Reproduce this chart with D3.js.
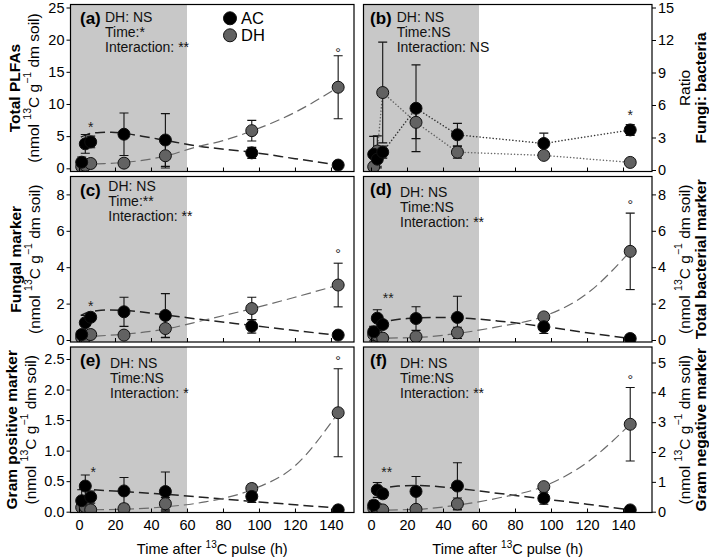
<!DOCTYPE html>
<html><head><meta charset="utf-8">
<script src="https://cdnjs.cloudflare.com/ajax/libs/d3/7.8.5/d3.min.js"></script>
<style>body{margin:0;background:#fff} svg{display:block;font-family:"Liberation Sans",Arial,sans-serif}</style>
</head><body><svg id="c" width="709" height="558"></svg>
<script>
// ---------- DATA ----------
const times = [1.5, 3.5, 6.5, 25, 48, 96, 144];
const xTicks = [0, 20, 40, 60, 80, 100, 120, 140];
const shadeEnd = 60;
const seriesNames = ["AC", "DH"];

// (a) Total PLFAs
const acA = [0.95, 3.8, 4.1, 5.3, 4.4, 2.4, 0.5];
const acErrA = [0.8, 1.45, 0.9, 3.3, 4.1, 0.85, 0.15];
const dhA = [0.25, 0.45, 0.75, 0.8, 1.95, 5.85, 12.6];
const dhErrA = [0.3, 0.35, 0.3, 0.6, 1.9, 1.6, 4.9];
const fitAcA = [[1,4.85],[4,5.2],[7,5.45],[12,5.58],[18,5.62],[25,5.45],[35,5.0],[48,4.35],[65,3.5],[96,2.5],[120,1.5],[144,0.5]];
const fitDhA = [[1,0.6],[10,0.7],[25,0.9],[48,1.9],[65,3.3],[80,4.3],[96,5.8],[120,8.7],[144,12.6]];
const ticksA = [0, 5, 10, 15, 20, 25];
const sigA = [{t:6.5, v:6.8, s:"*"}, {t:144, v:18.3, s:"°"}];
const statA = ["DH: NS", "Time:*", "Interaction: **"];

// (b) Fungi:bacteria ratio
const acB = [1.45, 1.0, 1.65, 5.7, 3.25, 2.45, 3.7];
const acErrB = [1.65, 0.8, 0.55, 4.0, 1.05, 0.95, 0.5];
const dhB = [0.3, 1.75, 7.15, 4.4, 1.65, 1.35, 0.7];
const dhErrB = [0.4, 1.4, 4.65, 1.5, 0.55, 0.3, 0.2];
const ticksB = [0, 3, 6, 9, 12, 15];
const sigB = [{t:144, v:5.3, s:"*"}];
const statB = ["DH: NS", "Time:NS", "Interaction: NS"];

// (c) Fungal marker
const acC = [0.3, 0.95, 1.25, 1.55, 1.35, 0.75, 0.27];
const acErrC = [0.2, 0.4, 0.2, 0.8, 1.2, 0.37, 0.08];
const dhC = [0.12, 0.15, 0.3, 0.27, 0.63, 1.73, 3.02];
const dhErrC = [0.1, 0.1, 0.1, 0.2, 0.5, 0.62, 1.2];
const fitAcC = [[1,1.35],[5,1.52],[10,1.61],[17,1.65],[25,1.62],[48,1.38],[70,1.1],[96,0.8],[120,0.52],[144,0.26]];
const fitDhC = [[1,0.18],[25,0.32],[48,0.6],[70,1.1],[96,1.72],[120,2.35],[144,3.02]];
const ticksC = [0, 2, 4, 6, 8];
const sigC = [{t:6.5, v:1.96, s:"*"}, {t:144, v:4.85, s:"°"}];
const statC = ["DH: NS", "Time:**", "Interaction: **"];

// (d) Total bacterial marker
const acD = [0.45, 1.2, 0.85, 1.18, 1.24, 0.73, 0.08];
const acErrD = [0.3, 0.46, 0.2, 0.65, 1.16, 0.37, 0.05];
const dhD = [0.3, 0.25, 0.1, 0.18, 0.4, 1.27, 4.87];
const dhErrD = [0.35, 0.1, 0.05, 0.1, 0.3, 0.2, 2.1];
const fitAcD = [[3,0.85],[10,1.05],[20,1.18],[35,1.24],[48,1.22],[70,1.05],[96,0.74],[120,0.4],[144,0.08]];
const fitDhD = [[1,0.1],[25,0.14],[48,0.36],[70,0.72],[96,1.3],[120,2.55],[144,4.87]];
const ticksD = [0, 2, 4, 6, 8];
const sigD = [{t:9.6, v:2.42, s:"**"}, {t:144, v:7.54, s:"°"}];
const statD = ["DH: NS", "Time:NS", "Interaction: **"];

// (e) Gram positive marker
const acE = [0.18, 0.42, 0.24, 0.34, 0.33, 0.25, 0.03];
const acErrE = [0.18, 0.18, 0.1, 0.22, 0.32, 0.1, 0.02];
const dhE = [0.07, 0.08, 0.03, 0.05, 0.13, 0.38, 1.62];
const dhErrE = [0.05, 0.05, 0.02, 0.03, 0.1, 0.07, 0.72];
const fitAcE = [[0,0.37],[25,0.33],[50,0.28],[75,0.22],[100,0.16],[144,0.06]];
const fitDhE = [[0,0.03],[25,0.04],[48,0.08],[70,0.16],[96,0.36],[120,0.75],[144,1.62]];
const ticksE = [0, 0.5, 1.0, 1.5, 2.0, 2.5];
const sigE = [{t:7.9, v:0.68, s:"*"}, {t:144, v:2.5, s:"°"}];
const statE = ["DH: NS", "Time:NS", "Interaction: *"];

// (f) Gram negative marker
const acF = [0.22, 0.73, 0.6, 0.68, 0.86, 0.45, 0.06];
const acErrF = [0.15, 0.25, 0.15, 0.5, 0.78, 0.2, 0.03];
const dhF = [0.12, 0.12, 0.06, 0.08, 0.26, 0.84, 2.93];
const dhErrF = [0.1, 0.08, 0.03, 0.05, 0.2, 0.12, 1.23];
const fitAcF = [[3,0.62],[8,0.78],[15,0.86],[25,0.88],[48,0.78],[70,0.62],[96,0.43],[120,0.25],[144,0.06]];
const fitDhF = [[1,0.05],[25,0.08],[48,0.22],[70,0.45],[96,0.85],[120,1.65],[144,2.93]];
const ticksF = [0, 1, 2, 3, 4, 5];
const sigF = [{t:8.7, v:1.4, s:"**"}, {t:144, v:4.49, s:"°"}];
const statF = ["DH: NS", "Time:NS", "Interaction: **"];

// ---------- LAYOUT ----------
const cols = [
  {x0:70.5, x1:354, dom:[-4.72, 152.8]},
  {x0:363.5, x1:652, dom:[-4.17, 156.1]}
];
const rows = [{y0:4.5, y1:171.5},{y0:176.5, y1:342},{y0:347, y1:512.5}];
const AC_COL = "#000", DH_COL = "#626262", SHADE = "#c8c8c8";

const panels = [
  {id:"(a)", col:0, row:0, ac:acA, acE:acErrA, dh:dhA, dhE:dhErrA, fitAc:fitAcA, fitDh:fitDhA, ticks:ticksA, ymap:[0,168.3,25,7.5], sig:sigA, stat:statA, fmt:d3.format("d"),
   title:"Total PLFAs", unit:true, lab:[80,24], st:[105,21.7], tx:[14,33], legend:true},
  {id:"(b)", col:1, row:0, ac:acB, acE:acErrB, dh:dhB, dhE:dhErrB, dotted:true, ticks:ticksB, ymap:[0,170,15,7.5], sig:sigB, stat:statB, fmt:d3.format("d"),
   title:"Fungi: bacteria", unit:false, lab:[370,24], st:[396.7,21.7], tx:[700,684]},
  {id:"(c)", col:0, row:1, ac:acC, acE:acErrC, dh:dhC, dhE:dhErrC, fitAc:fitAcC, fitDh:fitDhC, ticks:ticksC, ymap:[0,340,8,194.4], sig:sigC, stat:statC, fmt:d3.format("d"),
   title:"Fungal marker", unit:true, lab:[80,196], st:[108.3,190.7], tx:[15,34]},
  {id:"(d)", col:1, row:1, ac:acD, acE:acErrD, dh:dhD, dhE:dhErrD, fitAc:fitAcD, fitDh:fitDhD, ticks:ticksD, ymap:[0,340,8,194.4], sig:sigD, stat:statD, fmt:d3.format("d"),
   title:"Total bacterial marker", unit:true, lab:[370,195], st:[400,196.7], tx:[700,684]},
  {id:"(e)", col:0, row:2, ac:acE, acE:acErrE, dh:dhE, dhE:dhErrE, fitAc:fitAcE, fitDh:fitDhE, ticks:ticksE, ymap:[0,511.7,2.5,359], sig:sigE, stat:statE, fmt:d3.format(".1f"),
   title:"Gram positive marker", unit:true, lab:[80,366], st:[110,368], tx:[11,30]},
  {id:"(f)", col:1, row:2, ac:acF, acE:acErrF, dh:dhF, dhE:dhErrF, fitAc:fitAcF, fitDh:fitDhF, ticks:ticksF, ymap:[0,511.7,5,362.5], sig:sigF, stat:statF, fmt:d3.format("d"),
   title:"Gram negative marker", unit:true, lab:[370,366], st:[400,368], tx:[700,684]}
];

const svg = d3.select("#c");
const defs = svg.append("defs");

function unitText(sel){
  sel.append("tspan").text("(nmol ");
  sel.append("tspan").attr("font-size", 10.5).attr("dy", -6).text("13");
  sel.append("tspan").attr("dy", 6).text("C g");
  sel.append("tspan").attr("font-size", 10.5).attr("dy", -6).text("\u22121");
  sel.append("tspan").attr("dy", 6).text(" dm soil)");
}

panels.forEach((p, i) => {
  const c = cols[p.col], r = rows[p.row];
  const x = d3.scaleLinear().domain(c.dom).range([c.x0, c.x1]);
  const y = d3.scaleLinear().domain([p.ymap[0], p.ymap[2]]).range([p.ymap[1], p.ymap[3]]);
  const clipId = "clip" + i;
  defs.append("clipPath").attr("id", clipId).append("rect")
    .attr("x", c.x0).attr("y", r.y0).attr("width", c.x1 - c.x0).attr("height", r.y1 - r.y0);
  const g = svg.append("g");
  const inner = g.append("g").attr("clip-path", `url(#${clipId})`);

  // shading
  inner.append("rect").attr("x", c.x0).attr("y", r.y0)
    .attr("width", x(shadeEnd) - c.x0).attr("height", r.y1 - r.y0).attr("fill", SHADE);

  // bottom ticks (inward)
  const xa = g.append("g").attr("transform", `translate(0,${r.y1})`)
    .call(d3.axisBottom(x).tickValues(xTicks).tickSize(-4).tickSizeOuter(0).tickPadding(7)
      .tickFormat(p.row === 2 ? d3.format("d") : () => ""));
  xa.select(".domain").remove();
  xa.selectAll("text").attr("font-size", 14.5).attr("fill", "#000").attr("font-family", "Liberation Sans, Arial, sans-serif");
  xa.selectAll("line").attr("stroke", "#000");

  // y axis
  const ya = g.append("g").attr("transform", `translate(${p.col === 0 ? c.x0 : c.x1},0)`)
    .call((p.col === 0 ? d3.axisLeft(y) : d3.axisRight(y)).tickValues(p.ticks).tickSize(4).tickSizeOuter(0).tickPadding(2).tickFormat(p.fmt));
  ya.select(".domain").remove();
  ya.selectAll("text").attr("font-size", 14.5).attr("fill", "#000").attr("font-family", "Liberation Sans, Arial, sans-serif");
  ya.selectAll("line").attr("stroke", "#000");

  // fitted curves
  const line = d3.line().x(d => x(d[0])).y(d => y(d[1])).curve(d3.curveMonotoneX);
  if (p.fitAc) {
    inner.append("path").attr("d", line(p.fitAc)).attr("fill", "none")
      .attr("stroke", "#222").attr("stroke-width", 1.5).attr("stroke-dasharray", "10,5");
    inner.append("path").attr("d", line(p.fitDh)).attr("fill", "none")
      .attr("stroke", "#6a6a6a").attr("stroke-width", 1.2).attr("stroke-dasharray", "10,5");
  }
  if (p.dotted) {
    const ml = d3.line().x((d, j) => x(times[j])).y(d => y(d));
    inner.append("path").attr("d", ml(p.dh)).attr("fill", "none").attr("stroke", "#666")
      .attr("stroke-width", 1.5).attr("stroke-dasharray", "0.1,3.2").attr("stroke-linecap", "round");
    inner.append("path").attr("d", ml(p.ac)).attr("fill", "none").attr("stroke", "#333")
      .attr("stroke-width", 1.5).attr("stroke-dasharray", "0.1,3.2").attr("stroke-linecap", "round");
  }

  // error bars & points
  [{m:p.dh, e:p.dhE, col:DH_COL}, {m:p.ac, e:p.acE, col:AC_COL}].forEach(s => {
    const eb = inner.append("g").attr("stroke", "#111").attr("stroke-width", 1.1);
    s.m.forEach((v, j) => {
      const xx = x(times[j]), lo = y(v - s.e[j]), hi = y(v + s.e[j]);
      eb.append("line").attr("x1", xx).attr("x2", xx).attr("y1", lo).attr("y2", hi);
      eb.append("line").attr("x1", xx - 4.5).attr("x2", xx + 4.5).attr("y1", lo).attr("y2", lo);
      eb.append("line").attr("x1", xx - 4.5).attr("x2", xx + 4.5).attr("y1", hi).attr("y2", hi);
    });
  });
  [{m:p.dh, col:DH_COL}, {m:p.ac, col:AC_COL}].forEach(s => {
    inner.selectAll(null).data(s.m).enter().append("circle")
      .attr("cx", (d, j) => x(times[j])).attr("cy", d => y(d)).attr("r", 6)
      .attr("fill", s.col).attr("stroke", "#111").attr("stroke-width", 1);
  });

  // frame
  g.append("rect").attr("x", c.x0).attr("y", r.y0).attr("width", c.x1 - c.x0).attr("height", r.y1 - r.y0)
    .attr("fill", "none").attr("stroke", "#000").attr("stroke-width", 1.2);

  // significance marks
  p.sig.forEach(s => {
    g.append("text").attr("x", x(s.t)).attr("y", y(s.v) + 7).attr("text-anchor", "middle")
      .attr("font-size", 14).attr("fill", "#222").text(s.s);
  });

  // panel label and stats
  g.append("text").attr("x", p.lab[0]).attr("y", p.lab[1]).attr("font-size", 17).attr("font-weight", "bold").text(p.id);
  p.stat.forEach((t, k) => {
    g.append("text").attr("x", p.st[0]).attr("y", p.st[1] + k * 15).attr("font-size", 14).attr("fill", "#111").text(t);
  });

  // y titles
  const cy = (r.y0 + r.y1) / 2;
  g.append("text").attr("transform", `translate(${p.tx[0]},${cy}) rotate(-90)`)
    .attr("text-anchor", "middle").attr("dominant-baseline", "central")
    .attr("font-size", 15.5).attr("font-weight", "bold").text(p.title);
  const t2 = g.append("text").attr("transform", `translate(${p.tx[1]},${cy}) rotate(-90)`)
    .attr("text-anchor", "middle").attr("dominant-baseline", "central").attr("font-size", 15.5);
  if (p.unit) unitText(t2); else t2.text("Ratio");

  // legend
  if (p.legend) {
    [[AC_COL, 18.3], [DH_COL, 35.3]].forEach((l, k) => {
      g.append("circle").attr("cx", 230).attr("cy", l[1]).attr("r", 6.5).attr("fill", l[0]).attr("stroke", "#111");
      g.append("text").attr("x", 241).attr("y", l[1] + 6).attr("font-size", 16.5).text(seriesNames[k]);
    });
  }
});

// x titles
cols.forEach(c => {
  const t = svg.append("text").attr("x", (c.x0 + c.x1) / 2).attr("y", 554).attr("text-anchor", "middle").attr("font-size", 14.5);
  t.append("tspan").text("Time after ");
  t.append("tspan").attr("font-size", 10).attr("dy", -6).text("13");
  t.append("tspan").attr("dy", 6).text("C pulse (h)");
});
</script></body></html>
